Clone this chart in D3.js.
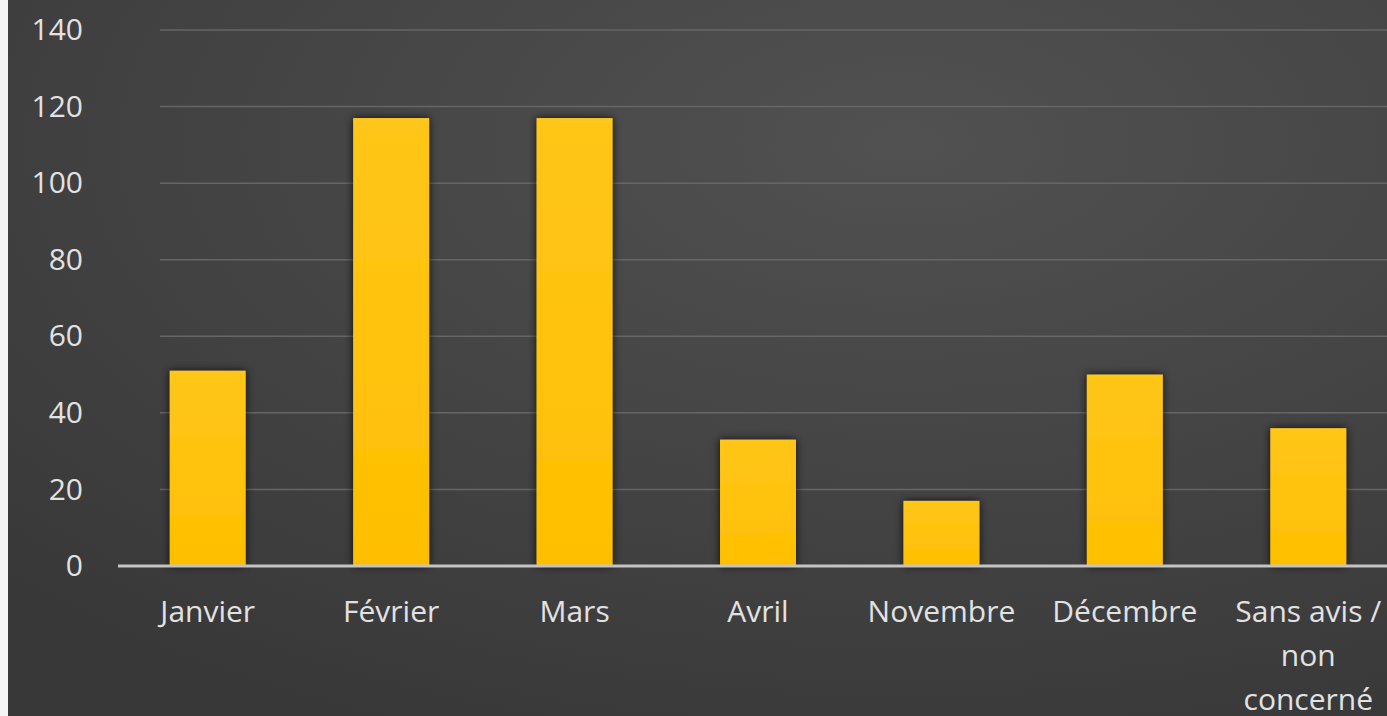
<!DOCTYPE html>
<meta charset="utf-8">
<style>
	body { margin: 0; background: #fff; }
	svg { display: block; }
	.tick text { font-family: "Open Sans", "Noto Sans", sans-serif; }
</style>
<body>
<script src="https://d3js.org/d3.v7.min.js"></script>
<script>

	var categories = ["Janvier", "Février", "Mars", "Avril", "Novembre", "Décembre", "Sans avis / non concerné"];
	var values = [51, 117, 117, 33, 17, 50, 36];
	var yTicks = [0, 20, 40, 60, 80, 100, 120, 140];

	var W = 1387, H = 716;

	var svg = d3.select("body").append("svg")
		.attr("width", W)
		.attr("height", H);

	var defs = svg.append("defs");

	var bg = defs.append("radialGradient")
		.attr("id", "bg")
		.attr("cx", "65%").attr("cy", "20%").attr("r", "90%");
	bg.append("stop").attr("offset", "0%").attr("stop-color", "#515151");
	bg.append("stop").attr("offset", "100%").attr("stop-color", "#383838");

	var barGrad = defs.append("linearGradient")
		.attr("id", "bar")
		.attr("x1", 0).attr("y1", 0).attr("x2", 0).attr("y2", 1);
	barGrad.append("stop").attr("offset", "0%").attr("stop-color", "#ffc61a");
	barGrad.append("stop").attr("offset", "100%").attr("stop-color", "#ffbf00");

	var shadow = defs.append("filter").attr("id", "shadow")
		.attr("x", "-30%").attr("y", "-30%").attr("width", "160%").attr("height", "160%");
	shadow.append("feDropShadow")
		.attr("dx", 0).attr("dy", 0).attr("stdDeviation", 4)
		.attr("flood-color", "#000").attr("flood-opacity", 0.8);

	// background with the white strip on the left
	svg.append("rect").attr("width", W).attr("height", H).attr("fill", "#f4f4f4");
	svg.append("rect").attr("x", 8).attr("width", W - 8).attr("height", H).attr("fill", "url(#bg)");

	var x = d3.scaleBand()
		.domain(categories)
		.range([116, 1400])
		.paddingInner(0.586)
		.paddingOuter(0.293);

	var y = d3.scaleLinear()
		.domain([0, 140])
		.range([566, 30]);

	// gridlines
	svg.append("g")
		.selectAll("line")
		.data(yTicks.filter(function(d) { return d > 0; }))
		.enter().append("line")
		.attr("x1", 160)
		.attr("x2", W)
		.attr("y1", function(d) { return y(d); })
		.attr("y2", function(d) { return y(d); })
		.attr("stroke", "#666")
		.attr("stroke-width", 1.5);

	// y axis labels
	var yAxis = svg.append("g")
		.attr("transform", "translate(83,0)")
		.call(d3.axisLeft(y).tickValues(yTicks).tickSize(0).tickPadding(0));
	yAxis.select(".domain").remove();
	yAxis.selectAll("text")
		.attr("fill", "#e2e2e2")
		.style("font-size", "30px");

	// bars
	svg.append("g")
		.selectAll("rect")
		.data(values)
		.enter().append("rect")
		.attr("x", function(d, i) { return x(categories[i]); })
		.attr("width", x.bandwidth())
		.attr("y", function(d) { return y(d); })
		.attr("height", function(d) { return y(0) - y(d); })
		.attr("fill", "url(#bar)")
		.attr("filter", "url(#shadow)");

	// x axis
	var xAxis = svg.append("g")
		.attr("transform", "translate(0," + y(0) + ")")
		.call(d3.axisBottom(x).tickSize(0).tickPadding(0));
	xAxis.select(".domain").remove();
	svg.append("line")
		.attr("x1", 118).attr("x2", W)
		.attr("y1", y(0)).attr("y2", y(0))
		.attr("stroke", "#c4c4c4")
		.attr("stroke-width", 3);

	xAxis.selectAll("text")
		.attr("fill", "#e2e2e2")
		.style("font-size", "30px")
		.attr("dy", null)
		.each(function(d) {
			var t = d3.select(this);
			var lines = d === "Sans avis / non concerné" ? ["Sans avis /", "non", "concerné"] : [d];
			t.text(null);
			lines.forEach(function(l, i) {
				t.append("tspan")
					.attr("x", 0)
					.attr("y", 56 + i * 44)
					.text(l);
			});
		});

</script>
</body>
